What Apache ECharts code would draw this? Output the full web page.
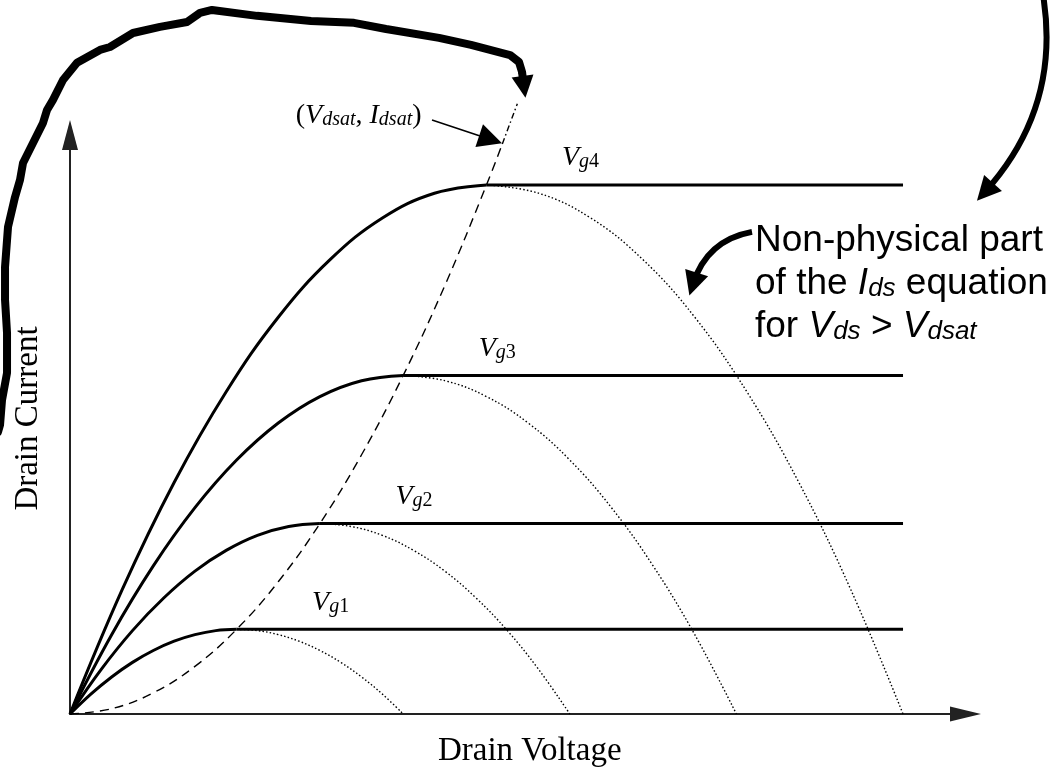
<!DOCTYPE html>
<html>
<head>
<meta charset="utf-8">
<script src="https://cdn.jsdelivr.net/npm/echarts@6/dist/echarts.min.js"></script>
<style>
  html, body { margin: 0; padding: 0; background: #ffffff; }
  #chart { width: 1058px; height: 773px; }
</style>
</head>
<body>
<div id="chart"></div>
<script>
// Square-law MOSFET output characteristics (arbitrary units).
// Saturation point of each gate-drive curve.
const vdsat = [2, 3, 4, 5];
const idsat = [4, 9, 16, 25];
const vdEnd = 10;                 // saturation lines run to this drain voltage
const gateNames = ['1', '2', '3', '4'];

// Triode region (solid) for each gate drive
const triodeVd = [
  [0, 0.25, 0.5, 0.75, 1, 1.25, 1.5, 1.75, 2],
  [0, 0.375, 0.75, 1.125, 1.5, 1.875, 2.25, 2.625, 3],
  [0, 0.5, 1, 1.5, 2, 2.5, 3, 3.5, 4],
  [0, 0.625, 1.25, 1.875, 2.5, 3.125, 3.75, 4.375, 5]
];
const triodeId = [
  [0, 0.94, 1.75, 2.44, 3, 3.44, 3.75, 3.94, 4],
  [0, 2.11, 3.94, 5.48, 6.75, 7.73, 8.44, 8.86, 9],
  [0, 3.75, 7, 9.75, 12, 13.75, 15, 15.75, 16],
  [0, 5.86, 10.94, 15.23, 18.75, 21.48, 23.44, 24.61, 25]
];

// Continuation of the parabola beyond Vdsat (dotted)
const dropVd = [
  [2, 2.25, 2.5, 2.75, 3, 3.25, 3.5, 3.75, 4],
  [3, 3.375, 3.75, 4.125, 4.5, 4.875, 5.25, 5.625, 6],
  [4, 4.5, 5, 5.5, 6, 6.5, 7, 7.5, 8],
  [5, 5.625, 6.25, 6.875, 7.5, 8.125, 8.75, 9.375, 10]
];
const dropId = [
  [4, 3.94, 3.75, 3.44, 3, 2.44, 1.75, 0.94, 0],
  [9, 8.86, 8.44, 7.73, 6.75, 5.48, 3.94, 2.11, 0],
  [16, 15.75, 15, 13.75, 12, 9.75, 7, 3.75, 0],
  [25, 24.61, 23.44, 21.48, 18.75, 15.23, 10.94, 5.86, 0]
];

// Locus of (Vdsat, Idsat)
const locusVd = [0, 0.5, 1, 1.5, 2, 2.5, 3, 3.5, 4, 4.5, 5, 5.19];
const locusId = [0, 0.25, 1, 2.25, 4, 6.25, 9, 12.25, 16, 20.25, 25, 26.94];
const locusTopVd = [5.19, 5.37];
const locusTopId = [26.94, 28.84];

// Hand-drawn annotation stroke (data units)
const squiggleVd = [-0.864, -0.84, -0.816, -0.756, -0.756, -0.78, -0.78, -0.744, -0.66, -0.6, -0.564, -0.444, -0.324, -0.276, -0.204, -0.084, 0.084, 0.36, 0.48, 0.756, 1.08, 1.405, 1.561, 1.705, 2.245, 2.893, 3.409, 3.794, 4.43, 4.814, 5.282, 5.39, 5.426];
const squiggleId = [13.33, 13.66, 14.84, 16.12, 18.01, 19.57, 21.12, 23.02, 24.43, 25.24, 26.04, 26.98, 27.93, 28.54, 29.02, 29.96, 30.77, 31.38, 31.52, 32.18, 32.47, 32.7, 33.13, 33.27, 32.99, 32.75, 32.66, 32.37, 31.95, 31.62, 31.14, 30.81, 30.34];
const squiggleHead = [[5.426, 30.34], [5.45, 29.63]];
const topRightArrow = [[11.681, 33.98], [10.984, 24.67]];
const nonPhysArrow = [[8.187, 22.78], [7.479, 20.32]];
const satPointArrow = [[4.346, 28.07], [5.049, 27.15]];

const pairs = (xs, ys) => xs.map((x, i) => [x, ys[i]]);

const SERIF = '"Liberation Serif", "Times New Roman", serif';
const SANS = '"Liberation Sans", Arial, sans-serif';

const serifRich = {
  p: { fontFamily: SERIF, fontSize: 28, lineHeight: 30, verticalAlign: 'bottom', color: '#000' },
  v: { fontFamily: SERIF, fontSize: 28, fontStyle: 'italic', lineHeight: 30, verticalAlign: 'bottom', color: '#000' },
  s: { fontFamily: SERIF, fontSize: 20, fontStyle: 'italic', lineHeight: 11, verticalAlign: 'bottom', color: '#000' },
  n: { fontFamily: SERIF, fontSize: 20, lineHeight: 11, verticalAlign: 'bottom', color: '#000' }
};

// Invisible anchor points that only carry text labels
const anchorItem = { color: 'rgba(0,0,0,0)', opacity: 1 };

const series = [];

for (let g = 0; g < vdsat.length; g++) {
  series.push({
    type: 'line', data: pairs(triodeVd[g], triodeId[g]), smooth: 0.4,
    symbol: 'none', silent: true, z: 3,
    lineStyle: { color: '#000', width: 3 }
  });
  series.push({
    type: 'line', data: [[vdsat[g], idsat[g]], [vdEnd, idsat[g]]],
    symbol: 'none', silent: true, z: 3,
    lineStyle: { color: '#000', width: 3 }
  });
  series.push({
    type: 'line', data: pairs(dropVd[g], dropId[g]), smooth: 0.4,
    symbol: 'none', silent: true, z: 2,
    lineStyle: { color: '#000', width: 1.4, type: [1.5, 2.2] }
  });
}

// Gate-drive labels beside each saturation point
series.push({
  type: 'scatter', silent: true, clip: false, z: 5,
  symbol: 'circle', symbolSize: 1, itemStyle: anchorItem,
  data: vdsat.map((v, i) => [v, idsat[i]]),
  label: {
    show: true, position: 'right', distance: 0, align: 'left', verticalAlign: 'middle',
    offset: [75, -28], color: '#000', textBorderWidth: 0,
    formatter: (p) => '{v|V}{s|g}{n|' + gateNames[p.dataIndex] + '}',
    rich: serifRich
  }
});

// Vdsat locus
series.push({
  type: 'line', data: pairs(locusVd, locusId), smooth: 0.4, clip: false,
  symbol: 'none', silent: true, z: 2,
  lineStyle: { color: '#000', width: 1.4, type: [9, 6] }
});
series.push({
  type: 'line', data: pairs(locusTopVd, locusTopId), clip: false,
  symbol: 'none', silent: true, z: 2,
  lineStyle: { color: '#000', width: 1.4, type: [6, 3, 1.5, 3] }
});

// (Vdsat, Idsat) pointer and its label
series.push({
  type: 'lines', coordinateSystem: 'cartesian2d', clip: false, silent: true, z: 4,
  symbol: ['none', 'triangle'], symbolSize: [15, 24],
  lineStyle: { color: '#000', width: 1.5, opacity: 1 },
  data: [{ coords: satPointArrow }]
});
series.push({
  type: 'scatter', silent: true, clip: false, z: 5,
  symbol: 'circle', symbolSize: 1, itemStyle: anchorItem,
  data: [satPointArrow[0]],
  label: {
    show: true, position: 'left', distance: 0, align: 'right', verticalAlign: 'middle',
    offset: [-10, -5], color: '#000', textBorderWidth: 0,
    formatter: '{p|(}{v|V}{s|dsat}{p|, }{v|I}{s|dsat}{p|)}',
    rich: serifRich
  }
});

// Hand-drawn stroke with its arrow head
series.push({
  type: 'lines', coordinateSystem: 'cartesian2d', polyline: true, clip: false, silent: true, z: 6,
  lineStyle: { color: '#000', width: 8, opacity: 1, cap: 'round', join: 'round' },
  data: [{ coords: pairs(squiggleVd, squiggleId) }]
});
series.push({
  type: 'lines', coordinateSystem: 'cartesian2d', clip: false, silent: true, z: 6,
  symbol: ['none', 'triangle'], symbolSize: [26, 22],
  lineStyle: { color: '#000', width: 8, opacity: 1 },
  data: [{ coords: squiggleHead }]
});

// Curved arrows
series.push({
  type: 'lines', coordinateSystem: 'cartesian2d', clip: false, silent: true, z: 6,
  symbol: ['none', 'triangle'], symbolSize: [22, 24],
  lineStyle: { color: '#000', width: 6, opacity: 1, curveness: 0.24 },
  data: [{ coords: topRightArrow }]
});
series.push({
  type: 'lines', coordinateSystem: 'cartesian2d', clip: false, silent: true, z: 6,
  symbol: ['none', 'triangle'], symbolSize: [22, 24],
  lineStyle: { color: '#000', width: 6, opacity: 1, curveness: -0.3 },
  data: [{ coords: nonPhysArrow }]
});

const chart = echarts.init(document.getElementById('chart'), null, { renderer: 'canvas' });
chart.setOption({
  backgroundColor: '#ffffff',
  animation: false,
  grid: { left: 70, right: 92.5, top: 135, bottom: 59, containLabel: false, outerBoundsMode: 'none' },
  xAxis: {
    type: 'value', min: 0, max: 10.75,
    name: 'Drain Voltage', nameLocation: 'middle', nameGap: 21,
    nameTextStyle: { fontFamily: SERIF, fontSize: 33, color: '#000', padding: [0, 0, 0, 24] },
    axisLine: { show: true, onZero: false, symbol: ['none', 'triangle'], symbolSize: [15, 31],
      lineStyle: { color: '#222', width: 2 } },
    axisTick: { show: false }, axisLabel: { show: false }, splitLine: { show: false }
  },
  yAxis: {
    type: 'value', min: 0, max: 27.36,
    name: 'Drain Current', nameLocation: 'middle', nameGap: 25,
    nameTextStyle: { fontFamily: SERIF, fontSize: 33, color: '#000', padding: [0, 0, 0, 12] },
    axisLine: { show: true, onZero: false, symbol: ['none', 'triangle'], symbolSize: [16, 30],
      lineStyle: { color: '#222', width: 2 } },
    axisTick: { show: false }, axisLabel: { show: false }, splitLine: { show: false }
  },
  graphic: [{
    type: 'text', x: 755, y: 216, silent: true, z: 10,
    style: {
      text: '{t|Non-physical part}\n{t|of the }{it|I}{sub|ds}{t| equation}\n{t|for }{it|V}{sub|ds}{t| > }{it|V}{sub|dsat}',
      fontFamily: SANS, fontSize: 37, lineHeight: 43, fill: '#000', verticalAlign: 'top', align: 'left',
      rich: {
        t: { fontFamily: SANS, fontSize: 37, lineHeight: 43, verticalAlign: 'bottom', fill: '#000' },
        it: { fontFamily: SANS, fontSize: 37, fontStyle: 'italic', lineHeight: 43, verticalAlign: 'bottom', fill: '#000' },
        sub: { fontFamily: SANS, fontSize: 26, fontStyle: 'italic', lineHeight: 20, verticalAlign: 'bottom', fill: '#000' }
      }
    }
  }],
  series: series
});
</script>
</body>
</html>
